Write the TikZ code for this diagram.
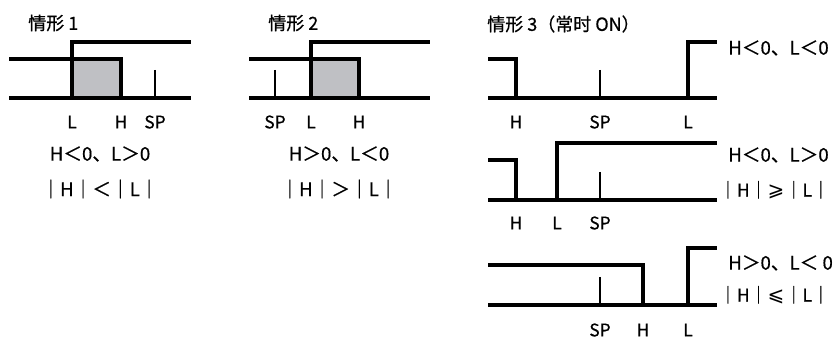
\documentclass[tikz,border=0pt]{standalone}
\usepackage{fontspec}
\setmainfont{Noto Sans CJK SC}[FakeBold=0.6]
\newfontfamily\symfont{DejaVu Sans}
\definecolor{boxgray}{RGB}{191,192,196}

\begin{document}
\begin{tikzpicture}[x=0.75pt,y=-0.75pt,
  wave/.style={line width=2.5pt},
  spline/.style={line width=0.8pt},
  lab/.style={inner sep=0pt,font=\fontsize{13}{15}\selectfont},
  cond/.style={inner sep=0pt,font=\fontsize{14}{17}\selectfont},
  title/.style={inner sep=0pt,anchor=west,font=\fontsize{13.5}{16}\selectfont}]
  \newcommand\cmpsym[1]{\makebox[1em]{\symfont\fontsize{15}{17}\selectfont #1}}
  \useasboundingbox (0,0) rectangle (833,338);
  % case 1
  \node[title] (t1) at (28,23) {情形 1};
  \fill[boxgray] (72,59) rectangle (121,98);
  \draw[wave] (9,59) -- (121,59) -- (121,98);
  \draw[wave] (72,98) -- (72,42) -- (191,42);
  \draw[wave] (9,98) -- (191,98);
  \draw[spline] (155,70) -- (155,98);
  \foreach \x/\lab in {72/L,121/H,155/SP}
    \node[lab] at (\x,122) {\lab};
  \node[cond] (c1a) at (100,154) {H＜0、L＞0};
  \node[cond] (c1b) at (100,189) {｜H｜＜｜L｜};
  % case 2
  \node[title] (t2) at (268,23) {情形 2};
  \fill[boxgray] (311,59) rectangle (359,98);
  \draw[wave] (249,59) -- (359,59) -- (359,98);
  \draw[wave] (311,98) -- (311,42) -- (430,42);
  \draw[wave] (249,98) -- (430,98);
  \draw[spline] (275,70) -- (275,98);
  \foreach \x/\lab in {275/SP,311/L,359/H}
    \node[lab] at (\x,122) {\lab};
  \node[cond] (c2a) at (339,154) {H＞0、L＜0};
  \node[cond] (c2b) at (339,189) {｜H｜＞｜L｜};
  % case 3
  \node[title] (t3) at (487,24) {情形 3（常时 ON）};
  % H<0, L<0
  \draw[wave] (488,59) -- (516,59) -- (516,98);
  \draw[wave] (488,98) -- (717,98);
  \draw[wave] (688,98) -- (688,42) -- (717,42);
  \draw[spline] (600,70) -- (600,98);
  \foreach \x/\lab in {516/H,600/SP,688/L}
    \node[lab] at (\x,122) {\lab};
  \node[cond,anchor=west] (c3a) at (728,48) {H＜0、L＜0};
  % H<0, L>0
  \draw[wave] (488,160) -- (516,160) -- (516,200);
  \draw[wave] (488,200) -- (717,200);
  \draw[wave] (557,200) -- (557,143) -- (717,143);
  \draw[spline] (600,172) -- (600,200);
  \foreach \x/\lab in {516/H,557/L,600/SP}
    \node[lab] at (\x,223) {\lab};
  \node[cond,anchor=west] (c4a) at (728,155) {H＜0、L＞0};
  \node[cond,anchor=west,font=\fontsize{13.2}{16}\selectfont] (c4b) at (719,190) {｜H｜\cmpsym{⩾}｜L｜};
  % H>0, L<0
  \draw[wave] (488,265) -- (643,265) -- (643,305);
  \draw[wave] (488,305) -- (717,305);
  \draw[wave] (688,305) -- (688,248) -- (717,248);
  \draw[spline] (600,277) -- (600,305);
  \foreach \x/\lab in {600/SP,643/H,688/L}
    \node[lab] at (\x,330) {\lab};
  \node[cond,anchor=west] (c5a) at (728,263) {H＞0、L＜ 0};
  \node[cond,anchor=west,font=\fontsize{13.2}{16}\selectfont] (c5b) at (719,295) {｜H｜\cmpsym{⩽}｜L｜};
\end{tikzpicture}
\end{document}
